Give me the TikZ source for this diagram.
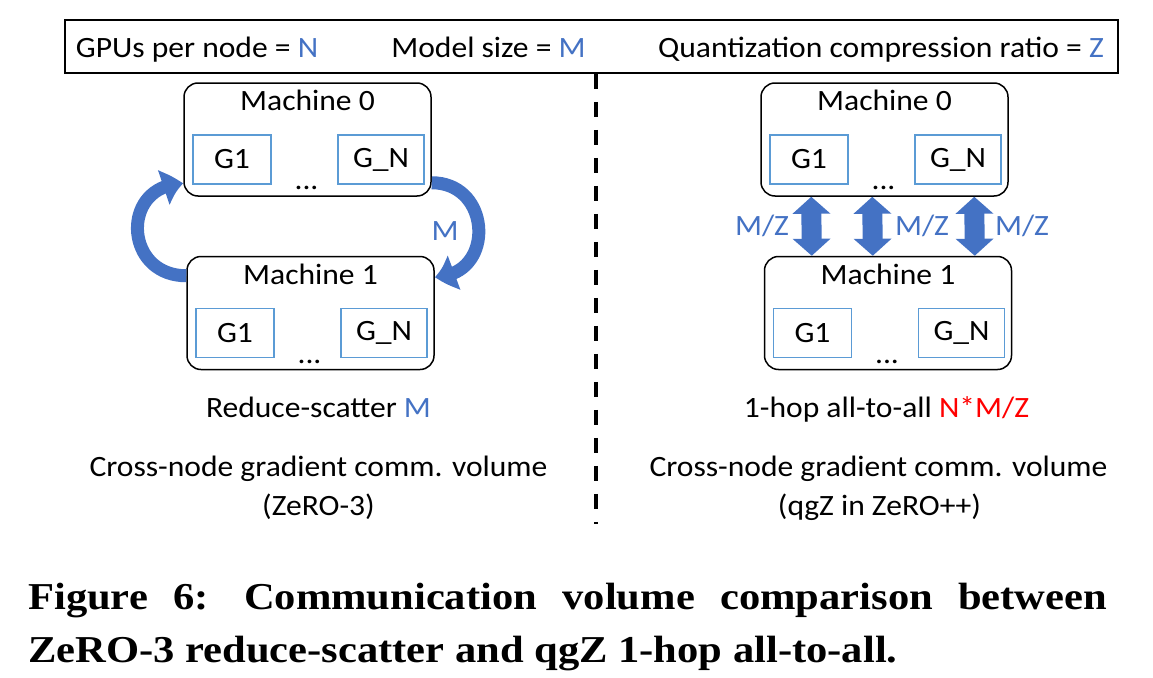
\documentclass[tikz,border=0pt]{standalone}
\usepackage{fontspec}
\setmainfont{Carlito}[FakeStretch=1.07]
\newfontfamily\capfont{Liberation Serif}[FakeStretch=1.12]
\usetikzlibrary{positioning,calc,arrows.meta,bending}
\definecolor{mblue}{HTML}{4472C4}
\definecolor{gblue}{HTML}{5B9BD5}

\begin{document}
\begin{tikzpicture}[x=1pt,y=1pt,
                    every node/.style={font=\fontsize{29.5}{34}\selectfont, inner sep=0pt},
                    machine/.style={draw, line width=1.5pt, rounded corners=14pt, minimum width=247pt, minimum height=113pt},
                    gpu/.style={draw=gblue, line width=1.5pt, minimum height=49pt},
                    ring/.style={draw=mblue, line width=13pt, -{Triangle[length=21pt,width=34pt,bend]}},
                    link/.style={draw=mblue, line width=20pt, {Triangle[length=17pt,width=37pt]}-{Triangle[length=17pt,width=37pt]}},
                    divider/.style={line width=3.5pt, dash pattern=on 15pt off 13pt},
                    val/.style={text=mblue},
                    caption/.style={font=\capfont\bfseries\fontsize{38}{44}\selectfont, anchor=base west}]
        \useasboundingbox (0,0) rectangle (1153,-677);
        \node[draw, line width=1.5pt, minimum width=1053pt, minimum height=53pt] (legend) at (591.5,-46.5) {};
        \node[anchor=base] (lgN) at (197,-57) {GPUs per node = \textcolor{mblue}{N}};
        \node[anchor=base] (lgM) at (488.5,-57) {Model size = \textcolor{mblue}{M}};
        \node[anchor=base] (lgZ) at (881,-57) {Quantization compression ratio = \textcolor{mblue}{Z}};
        \draw[divider] ([xshift=4.5pt]legend.south) -- ++(0,-450);
        \foreach \m/\x/\y/\t in {m0L/307.5/139.5/0, m1L/310.5/313/1, m0R/884.5/139.5/0, m1R/888/313/1}{
            \node[machine] (\m) at (\x,-\y) {};
            \node[anchor=base] (\m-name) at ($(\m.north)+(0,-28.5)$) {Machine \t};
            \node[gpu, minimum width=78pt, anchor=north west] (\m-g1) at ($(\m.north west)+(9,-52)$) {G1};
            \node[gpu, minimum width=86pt, anchor=north east] (\m-gn) at ($(\m.north east)+(-7,-52)$) {G\_N};
            \node[anchor=base] (\m-dots) at ($(\m.south)+(-1,7)$) {...};
        }
        \draw[ring] ($(m1L.north west)+(0,-20)$) to[out=180, in=180, looseness=1.75] ($(m0L.south west)+(0,13)$);
        \draw[ring] ($(m0L.south east)+(0,14)$) to[out=0, in=0, looseness=1.65] ($(m1L.north east)+(0,-21)$);
        \node[val, anchor=base] (lblM) at (445,-240) {M};
        \foreach \dx in {51,112,214}
            \draw[link] ([xshift=\dx pt]m0R.south west) -- ([xshift={\dx-3}]m1R.north west);
        \node[val, anchor=base] (lz1) at (762,-235) {M/Z};
        \node[val, anchor=base] (lz2) at (922,-235) {M/Z};
        \node[val, anchor=base] (lz3) at (1022,-235) {M/Z};
        \node[anchor=base] (rsL) at (318.5,-417) {Reduce-scatter \textcolor{mblue}{M}};
        \node[anchor=base] (volL) at (318.5,-476) {Cross-node gradient comm. volume};
        \node[anchor=base] (zeroL) at (318.5,-515) {(ZeRO-3)};
        \node[anchor=base] (rsR) at (886.5,-417) {1-hop all-to-all \textcolor{red}{N*M/Z}};
        \node[anchor=base] (volR) at (878.5,-476) {Cross-node gradient comm. volume};
        \node[anchor=base] (zeroR) at (879.5,-515) {(qgZ in ZeRO++)};
        \node[caption] (cap1) at (28,-609) {\makebox[1079pt][s]{Figure 6:\ \hspace{10pt}Communication volume comparison between}};
        \node[caption] (cap2) at (28,-662) {ZeRO-3 reduce-scatter and qgZ 1-hop all-to-all.};
\end{tikzpicture}
\end{document}
